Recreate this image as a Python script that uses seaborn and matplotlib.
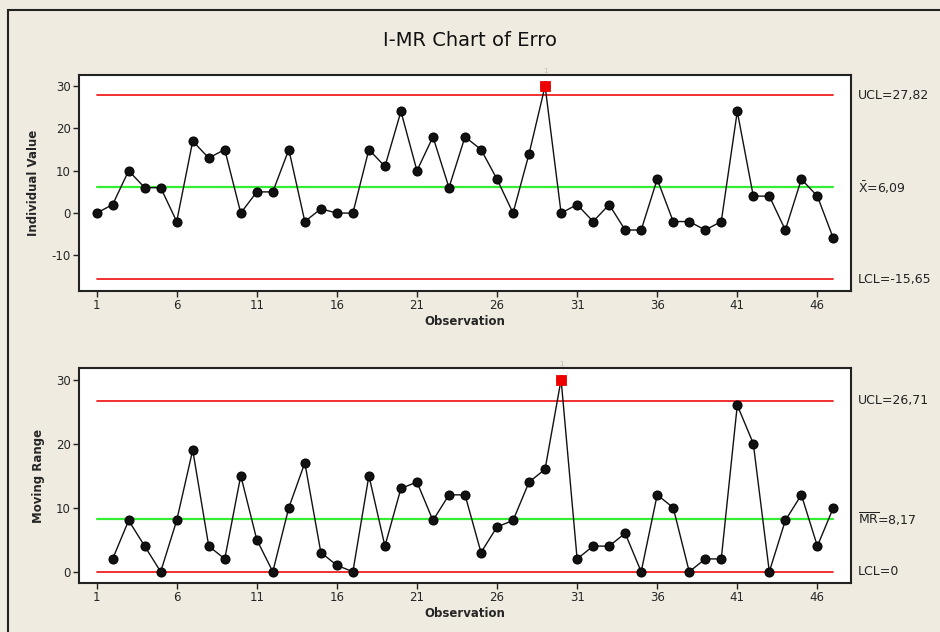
import pandas as pd
import seaborn as sns
import matplotlib.pyplot as plt
from matplotlib.patches import Rectangle
from matplotlib.transforms import blended_transform_factory

# values
observation = list(range(1, 48))
individual = [0, 2, 10, 6, 6, -2, 17, 13, 15, 0, 5, 5, 15, -2, 1, 0, 0, 15, 11, 24,
              10, 18, 6, 18, 15, 8, 0, 14, 30, 0, 2, -2, 2, -4, -4, 8, -2, -2, -4, -2,
              24, 4, 4, -4, 8, 4, -6]
moving_range = [None, 2, 8, 4, 0, 8, 19, 4, 2, 15, 5, 0, 10, 17, 3, 1, 0, 15, 4, 13,
                14, 8, 12, 12, 3, 7, 8, 14, 16, 30, 2, 4, 4, 6, 0, 12, 10, 0, 2, 2,
                26, 20, 0, 8, 12, 4, 10]
i_limits = {"UCL": 27.82, "CL": 6.09, "LCL": -15.65}
mr_limits = {"UCL": 26.71, "CL": 8.17, "LCL": 0}
i_labels = ["UCL=27,82", r"$\bar{\mathrm{X}}$=6,09", "LCL=-15,65"]
mr_labels = ["UCL=26,71", r"$\overline{\mathrm{MR}}$=8,17", "LCL=0"]
xticks = [1, 6, 11, 16, 21, 26, 31, 36, 41, 46]

df = pd.DataFrame({"Observation": observation, "Individual": individual,
                   "MR": moving_range})

sns.set_style("white")
plt.rcParams["font.family"] = ["DejaVu Sans"]
plt.rcParams["mathtext.fontset"] = "dejavusans"
plt.rcParams["axes.unicode_minus"] = False

bg = "#EFEBE0"
fig = plt.figure(figsize=(9.4, 6.32), dpi=100, facecolor=bg)
fig.patches.append(Rectangle((8 / 940, -0.1), 1.2, 1 - 10 / 632 + 0.1,
                             transform=fig.transFigure, fill=False,
                             edgecolor="#222222", linewidth=1.5))
fig.text(0.5, 1 - 40 / 632, "I-MR Chart of Erro", ha="center", va="center",
         fontsize=14, color="#111111")

ax1 = fig.add_axes([79 / 940, 1 - 291 / 632, 772 / 940, 216 / 632])
ax2 = fig.add_axes([79 / 940, 1 - 583 / 632, 772 / 940, 215 / 632])


def draw(ax, col, limits, labels, ylim, yticks, ylabel):
    for key in ["UCL", "LCL"]:
        ax.plot([1, 47], [limits[key]] * 2, color="#F02020", linewidth=1.3, zorder=1)
    ax.plot([1, 47], [limits["CL"]] * 2, color="#33EE33", linewidth=1.6, zorder=1)
    d = df.dropna(subset=[col])
    sns.lineplot(data=d, x="Observation", y=col, ax=ax, color="#111111", linewidth=1,
                 marker="o", markersize=6.5, markeredgecolor="black", zorder=3)
    out = d[d[col] > limits["UCL"]]
    sns.scatterplot(data=out, x="Observation", y=col, ax=ax, marker="s", s=50,
                    color="#EE0000", edgecolor="#EE0000", zorder=4)
    for _, r in out.iterrows():
        ax.text(r["Observation"], ylim[1] + 0.2, "1", color="#BBBBBB", fontsize=5,
                ha="center", va="bottom", clip_on=False)
    ax.set_xlim(-0.1, 48.1)
    ax.set_ylim(*ylim)
    ax.set_xticks(xticks)
    ax.set_yticks(yticks)
    ax.tick_params(axis="both", direction="out", length=4, width=1, labelsize=8.5,
                   bottom=True, left=True, color="#222222", pad=2)
    ax.set_facecolor("white")
    for s in ax.spines.values():
        s.set_color("#222222")
        s.set_linewidth(1.5)
    ax.set_xlabel("Observation", fontsize=8.5, fontweight="bold", labelpad=2)
    ax.set_ylabel(ylabel, fontsize=8.5, fontweight="bold", labelpad=8)
    tr = blended_transform_factory(ax.transAxes, ax.transData)
    for key, lab in zip(["UCL", "CL", "LCL"], labels):
        ax.text(1.009, limits[key], lab, transform=tr, ha="left", va="center",
                fontsize=9, color="#222222")


draw(ax1, "Individual", i_limits, i_labels, (-18.4, 32.6), [-10, 0, 10, 20, 30],
     "Individual Value")
draw(ax2, "MR", mr_limits, mr_labels, (-1.76, 31.8), [0, 10, 20, 30], "Moving Range")

fig.savefig("out.png", dpi=100, facecolor=bg)
